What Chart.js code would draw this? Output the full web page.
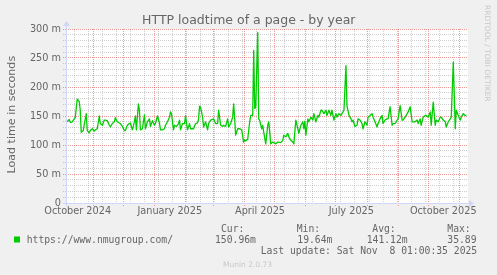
<!DOCTYPE html>
<html><head><meta charset="utf-8">
<script src="https://cdn.jsdelivr.net/npm/chart.js@4"></script>
<style>html,body{margin:0;padding:0;background:#F0F0F0;overflow:hidden}canvas{display:block}</style>
</head><body>
<canvas id="c" width="497" height="275"></canvas>
<script>
// ---- text ----
const chartTitle = 'HTTP loadtime of a page - by year';
const yAxisTitle = 'Load time in seconds';
const seriesLabel = 'https://www.nmugroup.com/';
const legendHeads = ['Cur:', 'Min:', 'Avg:', 'Max:'];
const legendValues = ['150.96m', '19.64m', '141.12m', '35.89'];
const lastUpdate = 'Last update: Sat Nov  8 01:00:35 2025';
const versionText = 'Munin 2.0.73';
const watermark = 'RRDTOOL / TOBI OETIKER';

// ---- data: x = days since 1 Oct 2024, y = load time in milliseconds ----
const days = [4,7,8,10,12,13,15,17,18,19,21,22,24,25,27,28,30,32,33,35,37,38,40,42,43,45,47,48,50,52,53,55,57,58,60,62,63,65,67,68,70,72,73,74,76,77,78,80,82,83,85,87,88,90,92,93,95,97,98,100,102,103,105,107,108,109,111,112,114,116,117,118,120,122,123,125,127,128,130,131,133,135,136,137,138,140,141,143,145,146,148,150,151,153,155,156,158,160,161,163,165,166,168,170,171,172,173,175,177,179,181,182,183,185,187,188,190,191,192,193,195,196,197,199,200,201,203,205,206,208,210,211,213,215,216,218,220,221,223,225,226,228,230,231,233,235,236,238,240,241,242,243,245,246,248,250,251,253,255,256,258,259,261,263,264,266,268,269,271,273,274,276,278,279,281,283,284,286,288,289,290,292,294,295,297,299,300,302,304,305,307,309,310,312,314,315,317,319,320,322,324,325,327,329,330,332,334,335,337,339,340,342,344,345,347,349,350,352,354,355,357,358,360,362,363,365,367,368,370,372,373,375,377,378,380,382,383,385,387,388,390,392,393,395,397,398,400,402,403];
const loadtime = [139,144,139,140,145,147,179,175,160,122,125,135,154,125,121,125,128,124,126,128,150,137,134,143,143,142,134,131,137,140,147,140,138,137,132,125,125,134,137,138,126,140,150,126,171,160,126,128,152,128,140,145,132,142,134,137,150,138,126,126,128,134,140,148,157,154,126,134,132,137,143,126,137,137,150,126,137,128,128,128,137,138,145,167,165,148,131,140,126,137,143,144,145,137,137,160,134,132,134,132,145,131,137,148,171,145,117,128,128,126,105,109,107,110,140,151,151,263,163,165,294,145,142,128,134,122,102,134,140,102,105,104,102,105,105,104,108,117,114,120,114,108,105,102,143,128,120,134,140,128,141,117,145,140,148,143,154,140,151,148,160,160,154,160,151,160,151,160,143,154,148,154,151,154,160,237,168,151,145,140,143,132,134,145,143,137,128,140,134,148,151,154,148,140,131,137,145,151,137,143,145,145,166,134,137,137,143,145,168,143,143,148,154,157,166,140,140,140,143,137,145,134,148,151,151,148,157,134,174,134,143,140,148,148,143,140,131,140,145,148,243,128,160,151,143,148,154,151,151];

// ---- axes ----
const xMin = 3.8, xMax = 403.7;
const yMin = 0, yMax = 300, yMinorStep = 10, yMajorStep = 50;
const monthStartDays = [31, 61, 92, 123, 151, 182, 212, 243, 273, 304, 335, 365, 396];
const minorGridDays = [12,26,40,54,68,82,96,110,124,138,152,166,180,194,208,222,236,250,264,278,292,306,320,334,348,362,376,390];
const xLabelText = ['October 2024', 'January 2025', 'April 2025', 'July 2025', 'October 2025'];
const xLabelDays = [15.5, 107.3, 197.3, 288.3, 380.0];

const FONT_COLOR = '#666666';
const AXIS_COLOR = '#CFD6F8';
const GRID_MINOR = 'rgba(143,143,143,0.42)';
const GRID_MAJOR = 'rgba(222,79,79,0.58)';
const LINE_COLOR = '#00CC00';

const kindOf = v => monthStartDays.includes(v) ? 'major' : (minorGridDays.includes(v) ? 'minor' : 'label');

const muninPlugin = {
  id: 'munin',
  beforeDraw(chart) {
    const {ctx, chartArea: a} = chart;
    ctx.save();
    ctx.fillStyle = '#F0F0F0';
    ctx.fillRect(0, 0, chart.width, chart.height);
    ctx.fillStyle = '#FFFFFF';
    ctx.fillRect(a.left, a.top, a.right - a.left + 1, a.bottom - a.top);
    ctx.restore();
  },
  afterDraw(chart) {
    const {ctx, chartArea: a} = chart;
    ctx.save();
    // axes
    ctx.strokeStyle = AXIS_COLOR; ctx.fillStyle = AXIS_COLOR; ctx.lineWidth = 1;
    const by = Math.round(a.bottom) + 0.5, lx = Math.round(a.left) + 0.5;
    ctx.beginPath(); ctx.moveTo(a.left - 3, by); ctx.lineTo(a.right + 3, by); ctx.stroke();
    ctx.beginPath(); ctx.moveTo(lx, a.bottom + 3); ctx.lineTo(lx, a.top - 4); ctx.stroke();
    ctx.beginPath(); ctx.moveTo(a.right + 2, by - 3.5); ctx.lineTo(a.right + 7, by); ctx.lineTo(a.right + 2, by + 3.5); ctx.closePath(); ctx.fill();
    ctx.beginPath(); ctx.moveTo(lx - 3.5, a.top - 3); ctx.lineTo(lx, a.top - 8); ctx.lineTo(lx + 3.5, a.top - 3); ctx.closePath(); ctx.fill();

    // title
    ctx.fillStyle = FONT_COLOR;
    ctx.font = '12.5px "DejaVu Sans"';
    ctx.textAlign = 'center'; ctx.textBaseline = 'alphabetic';
    ctx.fillText(chartTitle, 248.8, 24);

    // y axis title
    ctx.save();
    ctx.font = '11.1px "DejaVu Sans"';
    ctx.translate(14.5, 114.7); ctx.rotate(-Math.PI / 2);
    ctx.fillText(yAxisTitle, 0, 0);
    ctx.restore();

    // legend
    ctx.font = '9.72px "DejaVu Sans Mono"';
    ctx.textAlign = 'left';
    const headX = [221, 296.7, 372.3, 447.3];
    const valX = [215, 297.3, 366.7, 447.3];
    legendHeads.forEach((t, i) => ctx.fillText(t, headX[i], 231.5));
    legendValues.forEach((t, i) => ctx.fillText(t, valX[i], 242.8));
    ctx.fillText(seriesLabel, 26.7, 242.8);
    ctx.fillText(lastUpdate, 260.7, 254.3);
    ctx.fillStyle = LINE_COLOR;
    ctx.fillRect(14, 236.5, 6, 6);

    // version + watermark
    ctx.fillStyle = '#C8C8C8';
    ctx.font = '7.5px "DejaVu Sans"';
    ctx.textAlign = 'center';
    ctx.fillText(versionText, 247.5, 266.8);
    ctx.save();
    ctx.translate(484.5, 53.3); ctx.rotate(Math.PI / 2);
    ctx.fillText(watermark, 0, 0);
    ctx.restore();
    ctx.restore();
  }
};

new Chart(document.getElementById('c'), {
  type: 'line',
  data: {
    datasets: [{
      label: seriesLabel,
      data: days.map((d, i) => ({x: d, y: loadtime[i]})),
      borderColor: LINE_COLOR,
      borderWidth: 1.3,
      borderJoinStyle: 'round',
      pointRadius: 0,
      tension: 0,
      fill: false
    }]
  },
  options: {
    responsive: false,
    animation: false,
    events: [],
    devicePixelRatio: 1,
    layout: {padding: {top: 29, right: 30, left: 0, bottom: 0}},
    plugins: {legend: {display: false}, tooltip: {enabled: false}, title: {display: false}},
    scales: {
      x: {
        type: 'linear', min: xMin, max: xMax,
        afterBuildTicks(scale) {
          const vals = [...monthStartDays, ...minorGridDays, ...xLabelDays].filter(v => v >= xMin && v <= xMax);
          vals.sort((p, q) => p - q);
          scale.ticks = vals.map(v => ({value: v}));
        },
        afterFit(scale) { scale.height = 72; },
        ticks: {
          autoSkip: false, maxRotation: 0, minRotation: 0, padding: 0,
          color: FONT_COLOR, font: {family: 'DejaVu Sans', size: 9.72},
          callback(v) { const i = xLabelDays.indexOf(v); return i >= 0 ? xLabelText[i] : ''; }
        },
        grid: {
          color: ctx => { const k = kindOf(ctx.tick.value); return k === 'major' ? GRID_MAJOR : (k === 'minor' ? GRID_MINOR : 'rgba(0,0,0,0)'); },
          tickColor: ctx => kindOf(ctx.tick.value) === 'major' ? GRID_MAJOR : 'rgba(0,0,0,0)',
          lineWidth: 1, drawTicks: true, tickLength: 3, tickBorderDash: [1, 1]
        },
        border: {display: false, dash: [1, 1]}
      },
      y: {
        min: yMin, max: yMax,
        afterBuildTicks(scale) {
          const t = [];
          for (let v = yMin; v <= yMax; v += yMinorStep) t.push({value: v});
          scale.ticks = t;
        },
        afterFit(scale) { scale.width = 66; },
        ticks: {
          autoSkip: false, padding: 2, color: FONT_COLOR, font: {family: 'DejaVu Sans', size: 9.72},
          callback(v) { return v === 0 ? '0' : (v % yMajorStep === 0 ? v + ' m' : ''); }
        },
        grid: {
          color: ctx => ctx.tick.value % yMajorStep === 0 ? GRID_MAJOR : GRID_MINOR,
          lineWidth: 1, drawTicks: true, tickLength: 3, tickBorderDash: [1, 1]
        },
        border: {display: false, dash: [1, 1]}
      }
    }
  },
  plugins: [muninPlugin]
});
</script>
</body></html>
